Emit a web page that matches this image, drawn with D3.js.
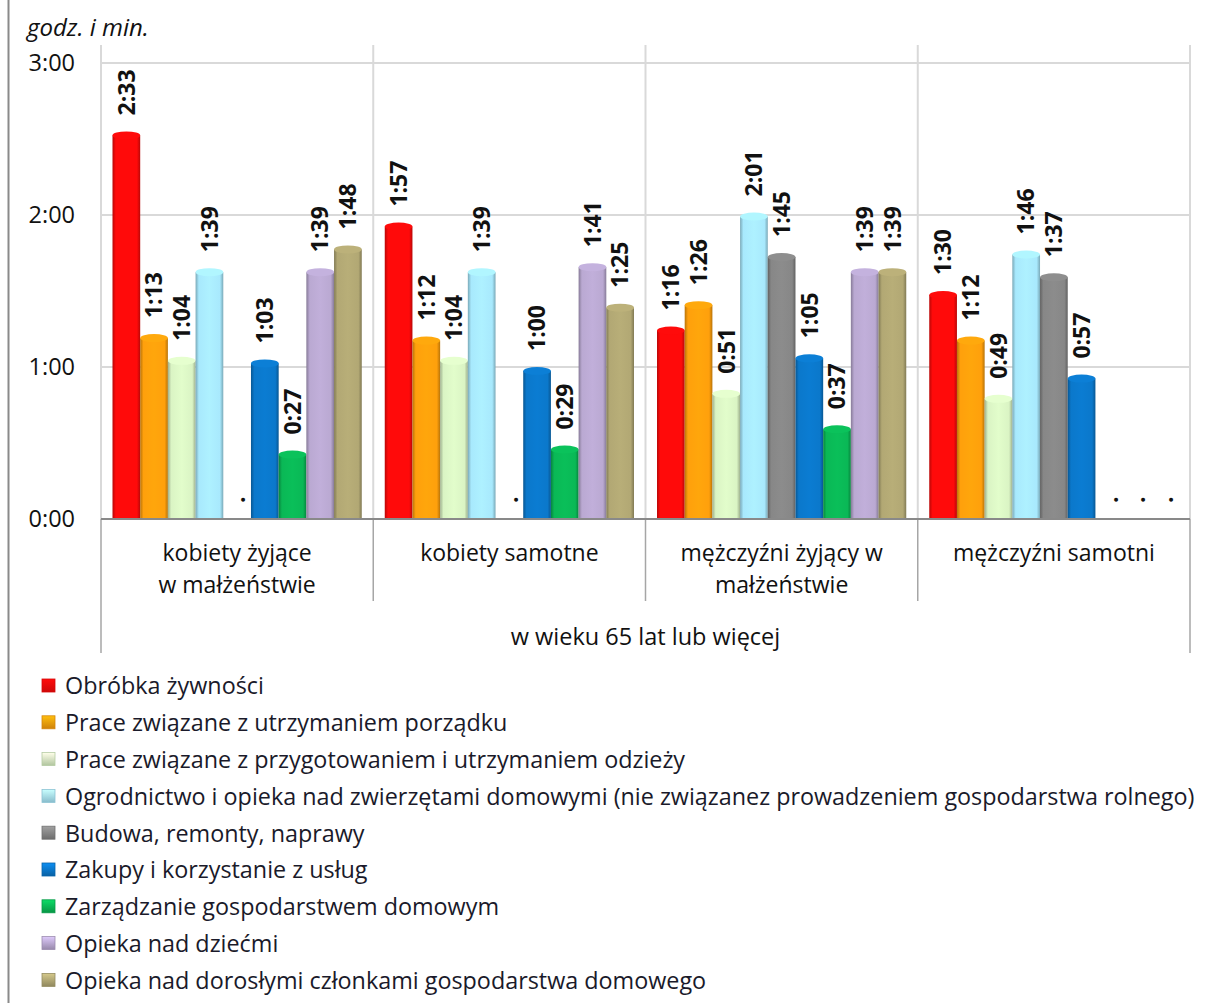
<!DOCTYPE html>
<html>
<head>
<meta charset="utf-8">
<script src="https://cdn.jsdelivr.net/npm/d3@7"></script>
<style>
body { margin: 0; background: #fff; }
text { font-family: "Open Sans", "DejaVu Sans", sans-serif; }
</style>
</head>
<body>
<script>
// dane: minuty, null = brak danych (kropka)
var kategorie = [
  ["kobiety żyjące", "w małżeństwie"],
  ["kobiety samotne"],
  ["mężczyźni żyjący w", "małżeństwie"],
  ["mężczyźni samotni"]
]
var serie = [
  "Obróbka żywności",
  "Prace związane z utrzymaniem porządku",
  "Prace związane z przygotowaniem i utrzymaniem odzieży",
  "Ogrodnictwo i opieka nad zwierzętami domowymi (nie związanez prowadzeniem gospodarstwa rolnego)",
  "Budowa, remonty, naprawy",
  "Zakupy i korzystanie z usług",
  "Zarządzanie gospodarstwem domowym",
  "Opieka nad dziećmi",
  "Opieka nad dorosłymi członkami gospodarstwa domowego"
]
var kolory = ["#FF0A0A", "#FFA00C", "#DAF4C4", "#A8E9FD", "#878787", "#0B78CB", "#0AB856", "#BAA9D2", "#B2A874"]
var obrobka   = [153, 117, 76, 90]
var porzadek  = [73, 72, 86, 72]
var odziez    = [64, 64, 51, 49]
var ogrod     = [99, 99, 121, 106]
var budowa    = [null, null, 105, 97]
var zakupy    = [63, 60, 65, 57]
var zarzadz   = [27, 29, 37, null]
var dzieci    = [99, 101, 99, null]
var dorosli   = [108, 85, 99, null]
var wartosci = [obrobka, porzadek, odziez, ogrod, budowa, zakupy, zarzadz, dzieci, dorosli]
var ticki = [0, 60, 120, 180]
var podpisOsi = "godz. i min."
var podpisGrupy = "w wieku 65 lat lub więcej"

var W = 1208, H = 1003
var lewo = 101, prawo = 1190, dol = 519, gora = 63

var svg = d3.select("body").append("svg")
  .attr("width", W).attr("height", H)

function hm(m) {
  var h = Math.floor(m / 60), r = m % 60
  return h + ":" + (r < 10 ? "0" : "") + r
}

var y = d3.scaleLinear().domain([0, 180]).range([dol, gora])
var x0 = d3.scaleBand().domain(d3.range(kategorie.length)).range([lewo, prawo])
var x1 = d3.scaleBand().domain(d3.range(serie.length)).range([11.5, x0.bandwidth() - 11.5])

// gradienty walcow
var defs = svg.append("defs")
kolory.forEach(function(k, i) {
  var g = defs.append("linearGradient").attr("id", "g" + i)
    .attr("x1", 0).attr("x2", 1).attr("y1", 0).attr("y2", 0)
  var ciemny = d3.color(k).darker(0.9)
  g.append("stop").attr("offset", 0).attr("stop-color", ciemny)
  g.append("stop").attr("offset", 0.12).attr("stop-color", k)
  g.append("stop").attr("offset", 0.5).attr("stop-color", d3.color(k).brighter(0.1))
  g.append("stop").attr("offset", 0.88).attr("stop-color", k)
  g.append("stop").attr("offset", 1).attr("stop-color", ciemny)
  var m = defs.append("linearGradient").attr("id", "m" + i)
    .attr("x1", 0).attr("x2", 0).attr("y1", 0).attr("y2", 1)
  m.append("stop").attr("offset", 0).attr("stop-color", d3.color(k).brighter(0.5))
  m.append("stop").attr("offset", 1).attr("stop-color", d3.color(k).darker(0.6))
})

// ramka z lewej
svg.append("line").attr("x1", 8.5).attr("x2", 8.5).attr("y1", 0).attr("y2", H)
  .attr("stroke", "#8a8a8a").attr("stroke-width", 2)

// siatka
svg.append("g").selectAll("line").data(ticki.filter(function(t){return t > 0})).enter().append("line")
  .attr("x1", lewo).attr("x2", prawo)
  .attr("y1", function(d){return y(d)}).attr("y2", function(d){return y(d)})
  .attr("stroke", "#D9D9D9").attr("stroke-width", 2)

var granice = d3.range(kategorie.length + 1).map(function(i){
  return i < kategorie.length ? x0(i) : x0(i - 1) + x0.bandwidth()
})
svg.append("g").selectAll("line").data(granice).enter().append("line")
  .attr("x1", function(d){return d}).attr("x2", function(d){return d})
  .attr("y1", 45).attr("y2", dol)
  .attr("stroke", "#D9D9D9").attr("stroke-width", 2)
svg.append("g").selectAll("line").data(granice).enter().append("line")
  .attr("x1", function(d){return d}).attr("x2", function(d){return d})
  .attr("y1", dol).attr("y2", function(d, i){return (i === 0 || i === granice.length - 1) ? 653 : 601})
  .attr("stroke", "#A6A6A6").attr("stroke-width", 1.5)

// os y
svg.append("g").selectAll("text").data(ticki).enter().append("text")
  .attr("x", 75).attr("y", function(d){return y(d)}).attr("dy", "0.36em")
  .attr("text-anchor", "end").attr("font-size", 23.5).attr("fill", "#111")
  .text(hm)
svg.append("text").attr("x", 27).attr("y", 36)
  .attr("font-size", 24).attr("font-style", "italic").attr("fill", "#111")
  .text(podpisOsi)

// slupki
var grupy = svg.append("g").selectAll("g").data(kategorie).enter().append("g")
  .attr("transform", function(d, i){return "translate(" + x0(i) + ",0)"})

var slupki = grupy.selectAll("g").data(function(d, ci){
    return wartosci.map(function(s, si){return {s: si, v: s[ci]}})
  }).enter().append("g")

var ry = 4
slupki.filter(function(d){return d.v !== null}).append("rect")
  .attr("x", function(d){return x1(d.s)})
  .attr("width", x1.bandwidth())
  .attr("y", function(d){return y(d.v) + ry})
  .attr("height", function(d){return dol - y(d.v) - ry})
  .attr("fill", function(d){return "url(#g" + d.s + ")"})
slupki.filter(function(d){return d.v !== null}).append("ellipse")
  .attr("cx", function(d){return x1(d.s) + x1.bandwidth() / 2})
  .attr("cy", function(d){return y(d.v) + ry})
  .attr("rx", x1.bandwidth() / 2).attr("ry", ry)
  .attr("fill", function(d){return d3.color(kolory[d.s]).brighter(0.15)})

slupki.append("text")
  .attr("transform", function(d){
    var cx = x1(d.s) + x1.bandwidth() / 2
    var cy = y(d.v === null ? 0 : d.v) - 16
    return "translate(" + cx + "," + cy + ") rotate(-90)"
  })
  .attr("dy", "0.36em")
  .attr("font-size", 23).attr("font-weight", "bold").attr("fill", "#111")
  .text(function(d){return d.v === null ? "." : hm(d.v)})

// os x
svg.append("line").attr("x1", lewo).attr("x2", prawo).attr("y1", dol).attr("y2", dol)
  .attr("stroke", "#898989").attr("stroke-width", 2)

grupy.append("text")
  .attr("x", x0.bandwidth() / 2).attr("y", 561)
  .attr("text-anchor", "middle").attr("font-size", 23).attr("fill", "#111")
  .selectAll("tspan").data(function(d){return d}).enter().append("tspan")
  .attr("x", x0.bandwidth() / 2).attr("dy", function(d, i){return i ? 32 : 0})
  .text(function(d){return d})

svg.append("text").attr("x", (lewo + prawo) / 2).attr("y", 645)
  .attr("text-anchor", "middle").attr("font-size", 23.5).attr("fill", "#111")
  .text(podpisGrupy)

// legenda
var legenda = svg.append("g")
var wpisy = legenda.selectAll("g").data(serie).enter().append("g")
  .attr("transform", function(d, i){return "translate(0," + (686 + i * 36.8) + ")"})
wpisy.append("rect").attr("x", 42).attr("y", -7).attr("width", 13).attr("height", 13)
  .attr("fill", function(d, i){return "url(#m" + i + ")"})
  .attr("stroke", function(d, i){return d3.color(kolory[i]).darker(0.5)}).attr("stroke-width", 0.8)
var napisy = wpisy.append("text").attr("x", 65).attr("dy", "0.36em")
  .attr("font-size", 20).attr("fill", "#1a1a2a")
  .text(function(d){return d})
// dopasuj rozmiar do najdluzszego wpisu
var najdl = d3.max(napisy.nodes(), function(n){return n.getComputedTextLength()})
napisy.attr("font-size", 20 * 1130 / najdl)
</script>
</body>
</html>
